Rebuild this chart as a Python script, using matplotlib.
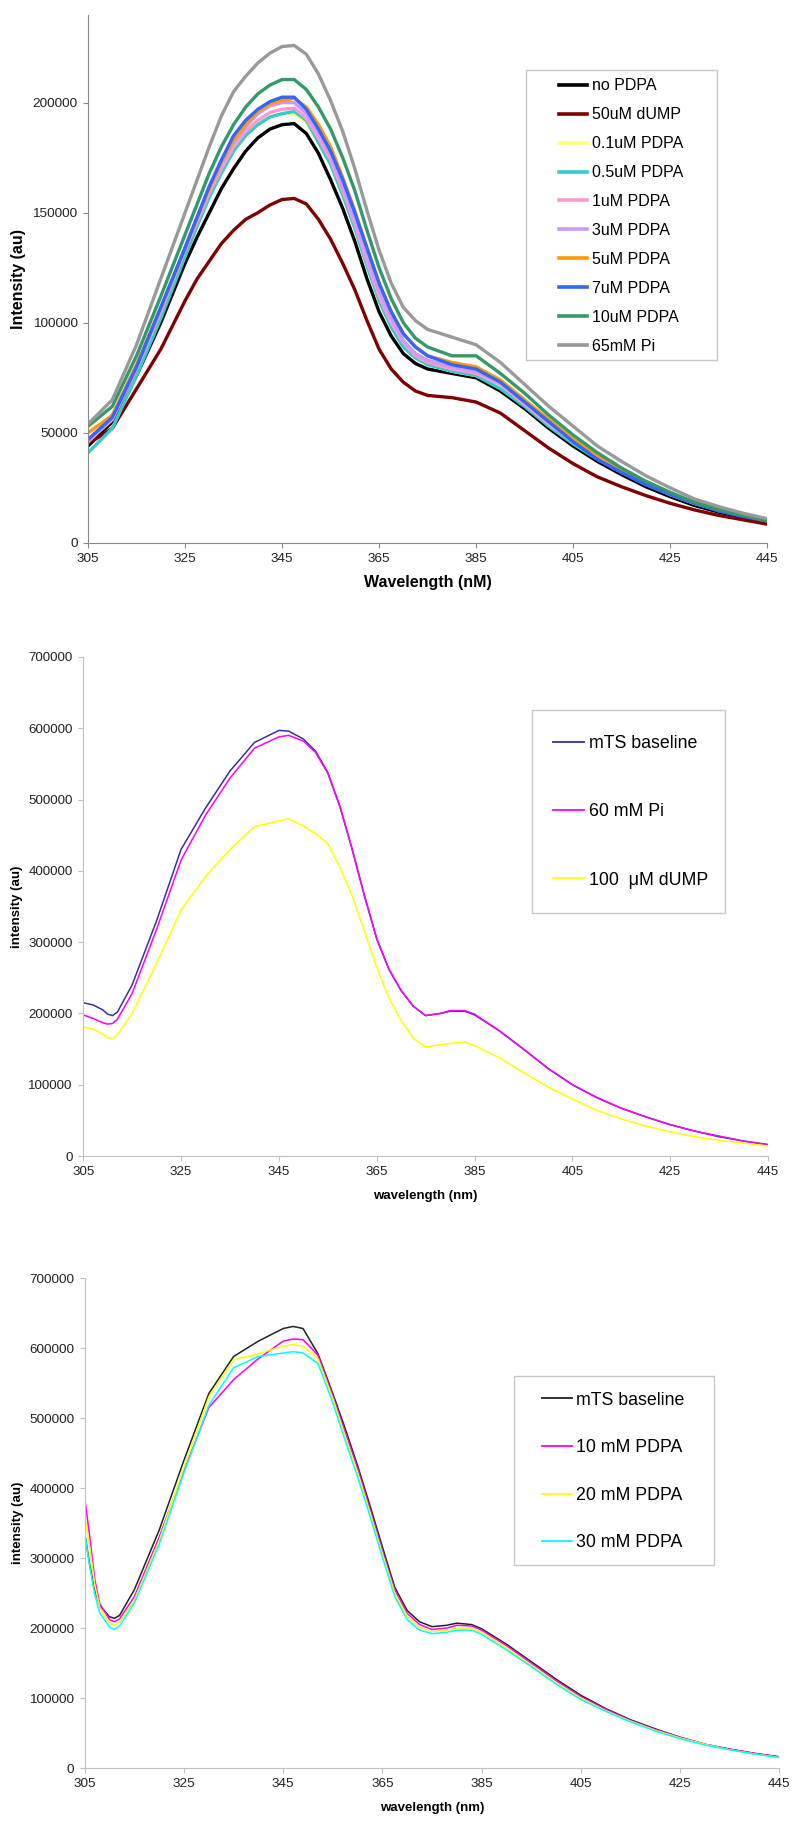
import matplotlib
matplotlib.use('Agg')
import matplotlib.pyplot as plt
from matplotlib.patches import Rectangle

plt.rcParams['font.family'] = ['Liberation Sans', 'DejaVu Sans']

# ---- panel 1 data (intensity in thousands) ----
wl1 = [305, 310, 315, 320, 325, 327.5, 330, 332.5, 335, 337.5, 340, 342.5, 345, 347.5,
       350, 352.5, 355, 357.5, 360, 362.5, 365, 367.5, 370, 372.5, 375,
       380, 385, 390, 395, 400, 405, 410, 415, 420, 425, 430, 435, 440, 445]
no_pdpa = [44, 55, 76, 100, 127, 139, 150, 161, 170, 178, 184, 188, 190, 190.5,
           186, 177, 165, 152, 137, 120, 105, 94, 86, 81.5, 79,
           77, 75, 69, 61, 52, 44, 37, 31, 25.5, 21, 17, 14, 11.5, 10]
dump50 = [45, 52, 70, 88, 110, 120, 128, 136, 142, 147, 150, 153.5, 156, 156.5,
          154, 147, 138, 127, 115, 101, 88, 79, 73, 69, 67,
          66, 64, 59, 51, 43, 36, 30, 25.5, 21.5, 18, 15, 12.5, 10.5, 8.5]
pdpa01 = [50, 58, 80, 105, 132, 145, 158, 168, 178, 185, 190, 193.5, 195, 195,
          191, 182, 172, 158, 143, 126, 110, 98, 89, 84, 81,
          78, 76, 71, 63, 54, 46, 39, 33, 27, 22, 18, 15, 12.5, 10.5]
pdpa05 = [41, 52, 76, 102, 130, 144, 157, 168, 178, 185, 190, 193.5, 195, 196,
          192, 182, 172, 158, 143, 126, 110, 98, 89, 84, 81,
          78, 76, 70, 62, 53, 45, 38, 32, 26.5, 22, 18, 15, 12.5, 10.5]
pdpa1 = [46, 56, 79, 105, 133, 146, 159, 170, 180, 187, 192, 195.5, 197, 197.5,
         193, 184, 174, 160, 145, 128, 112, 100, 91, 85, 82,
         79, 77, 72, 63, 54, 46, 39, 33, 27, 22, 18, 15, 12.5, 10.5]
pdpa3 = [46, 57, 80, 106, 134, 148, 161, 172, 182, 189, 195, 198.5, 200, 200,
         195, 186, 176, 162, 147, 130, 114, 102, 92, 86, 83,
         80, 78, 73, 64, 55, 47, 40, 33, 27.5, 22.5, 18.5, 15, 12.5, 10.5]
pdpa5 = [50, 58, 81, 107, 134, 148, 161, 173, 183, 190, 196, 199.5, 201, 202,
         198, 190, 180, 166, 151, 134, 118, 105, 95, 89, 85,
         82, 80, 74, 65, 56, 47, 40, 33.5, 27.5, 22.5, 18.5, 15, 12.5, 10.5]
pdpa7 = [47, 57, 80, 107, 134, 148, 162, 174, 185, 192, 197, 200.5, 202.5, 202.5,
         197, 188, 178, 165, 150, 134, 118, 105, 95, 89, 85,
         81, 79, 73, 64, 55, 46, 38, 32, 26.5, 22, 18, 14.5, 12, 10]
pdpa10 = [53, 62, 85, 112, 140, 154, 168, 180, 190, 198, 204, 208, 210.5, 210.5,
          206, 198, 188, 175, 160, 142, 125, 111, 100, 93, 89,
          85, 85, 77, 68, 58, 49, 41, 34, 28, 23, 18.5, 15, 12.5, 10]
pi65 = [54, 65, 90, 120, 150, 165, 180, 194, 205, 212, 218, 222.5, 225.5, 226,
        222, 213, 201, 187, 170, 151, 133, 118, 107, 101, 97,
        93.5, 90, 82, 72, 62, 53, 44, 37, 30.5, 25, 20, 16.5, 13.5, 11]

labels1 = ['no PDPA', '50uM dUMP', '0.1uM PDPA', '0.5uM PDPA', '1uM PDPA',
           '3uM PDPA', '5uM PDPA', '7uM PDPA', '10uM PDPA', '65mM Pi']
series1 = [no_pdpa, dump50, pdpa01, pdpa05, pdpa1, pdpa3, pdpa5, pdpa7, pdpa10, pi65]
colors1 = ['#000000', '#800000', '#FFFF80', '#33CCCC', '#FF99CC',
           '#CC99FF', '#FF9900', '#3366FF', '#339966', '#999999']

# ---- panel 2 data ----
wl2 = [305, 307, 309, 310, 311, 312, 315, 320, 325, 330, 335, 340, 345, 347, 350,
       352.5, 355, 357.5, 360, 362.5, 365, 367.5, 370, 372.5, 375,
       378, 380, 383, 385, 390, 395, 400, 405, 410, 415, 420, 425, 430, 435, 440, 445]
base2 = [215, 212, 205, 199, 197, 202, 240, 330, 430, 488, 540, 580, 597, 596, 585,
         568, 538, 490, 430, 365, 305, 262, 232, 210, 197,
         200, 203, 203, 198, 176, 150, 123, 100, 82, 67, 55, 44, 35, 27, 21, 16]
pi60 = [198, 193, 187, 185, 186, 192, 228, 318, 415, 478, 530, 572, 588, 590, 582,
        566, 537, 490, 430, 365, 305, 262, 232, 210, 197,
        200, 204, 204, 199, 176, 150, 123, 100, 82, 67, 55, 44, 35, 28, 21, 16]
dump100 = [181, 178, 171, 166, 164, 170, 200, 270, 345, 392, 430, 462, 470, 473, 463,
           452, 438, 405, 365, 315, 265, 222, 190, 165, 153,
           156, 158, 160, 155, 138, 117, 97, 80, 64, 52, 42, 34, 27, 22, 18, 14]
labels2 = ['mTS baseline', '60 mM Pi', '100  μM dUMP']
series2 = [base2, pi60, dump100]
colors2 = ['#333399', '#FF00FF', '#FFFF00']

# ---- panel 3 data ----
wl3 = [305, 306, 307, 308, 310, 311, 312, 315, 320, 325, 330, 335, 340, 345, 347, 349,
       352, 355, 357.5, 360, 362.5, 365, 367.5, 370, 372.5, 375,
       378, 380, 383, 385, 390, 395, 400, 405, 410, 415, 420, 425, 430, 435, 440, 445]
base3 = [335, 290, 255, 232, 216, 214, 218, 255, 340, 440, 535, 588, 610, 628, 631, 628,
         592, 535, 485, 432, 375, 316, 258, 225, 209, 202,
         204, 207, 205, 199, 177, 152, 127, 104, 85, 69, 56, 44, 34, 27, 21, 16]
pdpa10mm = [385, 330, 270, 235, 212, 209, 213, 245, 330, 425, 515, 555, 585, 610, 613, 612,
            590, 532, 480, 428, 370, 311, 254, 221, 205, 198,
            200, 204, 203, 197, 175, 150, 125, 102, 84, 68, 55, 44, 34, 27, 21, 16]
pdpa20mm = [360, 315, 262, 230, 207, 204, 208, 240, 325, 430, 530, 583, 592, 603, 605, 603,
            585, 528, 474, 422, 365, 306, 250, 217, 201, 195,
            197, 200, 200, 194, 172, 147, 122, 100, 82, 67, 54, 43, 34, 26, 20, 15]
pdpa30mm = [335, 288, 248, 222, 201, 198, 203, 236, 320, 422, 518, 572, 588, 593, 595, 593,
            578, 522, 468, 416, 360, 301, 245, 212, 197, 192,
            194, 197, 197, 191, 169, 145, 120, 98, 81, 66, 53, 42, 33, 26, 20, 15]
labels3 = ['mTS baseline', '10 mM PDPA', '20 mM PDPA', '30 mM PDPA']
series3 = [base3, pdpa10mm, pdpa20mm, pdpa30mm]
colors3 = ['#222222', '#FF00FF', '#FFFF00', '#00FFFF']

xticks = list(range(305, 446, 20))
W, H = 800, 1828

fig = plt.figure(figsize=(W / 100, H / 100), dpi=100)


def style_axes(ax, axis_color, tick_fs):
    ax.spines['top'].set_visible(False)
    ax.spines['right'].set_visible(False)
    ax.spines['left'].set_color(axis_color)
    ax.spines['bottom'].set_color(axis_color)
    ax.tick_params(axis='both', colors=axis_color, labelcolor='#222222',
                   length=3.5, width=0.8, pad=4, labelsize=tick_fs)
    ax.set_xticks(xticks)
    ax.set_xlim(305, 445)


def boxed_legend(ax, box, handle_x, rows_mid, fs, spacing, hlen, hpad, lw):
    # box in pixels: left, top, right, bottom
    l, t, r, b = box
    ax.add_patch(Rectangle((l / W, 1 - b / H), (r - l) / W, (b - t) / H,
                           transform=fig.transFigure, facecolor='white',
                           edgecolor='#c8c8c8', lw=1.0, zorder=4, clip_on=False))
    leg = ax.legend(loc='center left', bbox_to_anchor=(handle_x / W, 1 - rows_mid / H),
                    bbox_transform=fig.transFigure, fontsize=fs, frameon=False,
                    labelspacing=spacing, handlelength=hlen, handletextpad=hpad,
                    borderpad=0, borderaxespad=0)
    leg.set_zorder(5)
    for line in leg.get_lines():
        line.set_linewidth(lw)
    return leg


# panel 1
ax1 = fig.add_axes([0.110, 0.703, 0.849, 0.289])
for y, c, lab in zip(series1, colors1, labels1):
    ax1.plot(wl1, [v * 1000 for v in y], color=c, lw=2.4, label=lab)
style_axes(ax1, '#888888', 9.7)
ax1.set_ylim(0, 240000)
ax1.set_yticks(range(0, 200001, 50000))
ax1.set_xlabel('Wavelength (nM)', fontsize=11.5, fontweight='bold', labelpad=7)
ax1.set_ylabel('Intensity (au)', fontsize=11.5, fontweight='bold', labelpad=5)
boxed_legend(ax1, (526, 70, 717, 360), 559, (85 + 347) / 2, 11.5, 0.87, 1.75, 0.31, 2.6)

# panel 2
ax2 = fig.add_axes([0.104, 0.3676, 0.856, 0.273])
for y, c, lab in zip(series2, colors2, labels2):
    ax2.plot(wl2, [v * 1000 for v in y], color=c, lw=1.1, label=lab)
style_axes(ax2, '#c0c0c0', 9.6)
ax2.set_ylim(0, 700000)
ax2.set_yticks(range(0, 700001, 100000))
ax2.set_xlabel('wavelength (nm)', fontsize=9.5, fontweight='bold', labelpad=8)
ax2.set_ylabel('intensity (au)', fontsize=9.5, fontweight='bold', labelpad=4)
boxed_legend(ax2, (532, 710, 725, 913), 553, (744 + 880) / 2, 12.8, 2.87, 1.74, 0.28, 1.3)

# panel 3
ax3 = fig.add_axes([0.106, 0.0328, 0.868, 0.268])
for y, c, lab in zip(series3, colors3, labels3):
    ax3.plot(wl3, [v * 1000 for v in y], color=c, lw=1.1, label=lab)
style_axes(ax3, '#c0c0c0', 9.7)
ax3.set_ylim(0, 700000)
ax3.set_yticks(range(0, 700001, 100000))
ax3.set_xlabel('wavelength (nm)', fontsize=9.5, fontweight='bold', labelpad=8)
ax3.set_ylabel('intensity (au)', fontsize=9.5, fontweight='bold', labelpad=4)
boxed_legend(ax3, (514, 1376, 714, 1565), 542, (1400 + 1543) / 2, 12.8, 1.72, 1.69, 0.22, 1.3)

fig.savefig('out.png', dpi=100)
